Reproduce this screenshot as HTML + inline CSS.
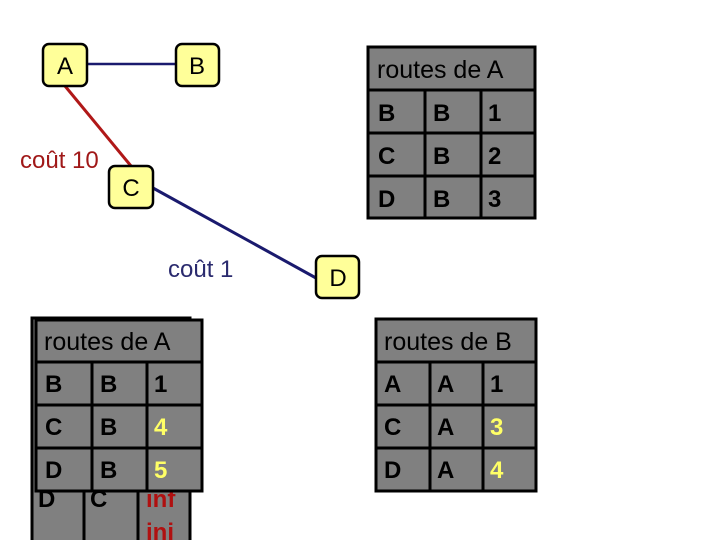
<!DOCTYPE html>
<html><head><meta charset="utf-8"><style>
html,body{margin:0;padding:0;background:#fff;width:720px;height:540px;overflow:hidden}
svg{display:block}
text{font-family:"Liberation Sans",sans-serif}
</style></head><body>
<svg width="720" height="540" viewBox="0 0 720 540" xmlns="http://www.w3.org/2000/svg">
<!-- edges -->
<line x1="87" y1="64" x2="176" y2="64" stroke="#1a1a6e" stroke-width="2.5"/>
<line x1="65" y1="86" x2="131" y2="166" stroke="#b01818" stroke-width="3"/>
<line x1="153" y1="188" x2="316" y2="278" stroke="#1a1a6e" stroke-width="3"/>
<text x="20" y="168" font-size="24" fill="#a01818">coût 10</text>
<text x="168" y="277" font-size="24" fill="#2a2a6e">coût 1</text>
<!-- nodes -->
<g stroke="#000" stroke-width="2.5" fill="#ffff99">
<rect x="43" y="44" width="44" height="42" rx="6"/>
<rect x="176" y="44" width="43" height="42" rx="6"/>
<rect x="109" y="166" width="44" height="42" rx="6"/>
<rect x="316" y="256" width="43" height="42" rx="6"/>
</g>
<g font-size="24" fill="#000" text-anchor="middle">
<text x="65" y="74">A</text><text x="197" y="74">B</text>
<text x="131" y="196">C</text><text x="338" y="286">D</text>
</g>
<!-- top-right table -->
<g stroke="#000" stroke-width="3" fill="#808080">
<rect x="368" y="47" width="167" height="171"/>
<line x1="368" y1="90" x2="535" y2="90"/><line x1="368" y1="133" x2="535" y2="133"/><line x1="368" y1="176" x2="535" y2="176"/>
<line x1="425" y1="90" x2="425" y2="218"/><line x1="481" y1="90" x2="481" y2="218"/>
</g>
<text x="377" y="78" font-size="25">routes de A</text>
<g font-size="24" font-weight="bold">
<text x="378" y="121">B</text><text x="433" y="121">B</text><text x="488" y="121">1</text>
<text x="378" y="164">C</text><text x="433" y="164">B</text><text x="488" y="164">2</text>
<text x="378" y="207">D</text><text x="433" y="207">B</text><text x="488" y="207">3</text>
</g>
<!-- behind table bottom-left -->
<g stroke="#000" stroke-width="3" fill="#808080">
<rect x="32" y="318" width="158" height="230"/>
<line x1="84" y1="318" x2="84" y2="540"/><line x1="138" y1="318" x2="138" y2="540"/>
</g>
<g font-size="24" font-weight="bold">
<text x="38" y="507">D</text><text x="90" y="507">C</text>
<text x="146" y="507" fill="#b01010">inf</text><text x="146" y="540" fill="#b01010">ini</text>
</g>
<!-- front table bottom-left -->
<g stroke="#000" stroke-width="3" fill="#808080">
<rect x="36" y="320" width="166" height="171"/>
<line x1="36" y1="362" x2="202" y2="362"/><line x1="36" y1="405" x2="202" y2="405"/><line x1="36" y1="448" x2="202" y2="448"/>
<line x1="92" y1="362" x2="92" y2="491"/><line x1="147" y1="362" x2="147" y2="491"/>
</g>
<text x="44" y="350" font-size="25">routes de A</text>
<g font-size="24" font-weight="bold">
<text x="45" y="392">B</text><text x="100" y="392">B</text><text x="154" y="392">1</text>
<text x="45" y="435">C</text><text x="100" y="435">B</text><text x="154" y="435" fill="#ffff66">4</text>
<text x="45" y="478">D</text><text x="100" y="478">B</text><text x="154" y="478" fill="#ffff66">5</text>
</g>
<!-- bottom-right table -->
<g stroke="#000" stroke-width="3" fill="#808080">
<rect x="376" y="319" width="160" height="172"/>
<line x1="376" y1="362" x2="536" y2="362"/><line x1="376" y1="405" x2="536" y2="405"/><line x1="376" y1="448" x2="536" y2="448"/>
<line x1="430" y1="362" x2="430" y2="491"/><line x1="483" y1="362" x2="483" y2="491"/>
</g>
<text x="384" y="350" font-size="25">routes de B</text>
<g font-size="24" font-weight="bold">
<text x="384" y="392">A</text><text x="437" y="392">A</text><text x="490" y="392">1</text>
<text x="384" y="435">C</text><text x="437" y="435">A</text><text x="490" y="435" fill="#ffff66">3</text>
<text x="384" y="478">D</text><text x="437" y="478">A</text><text x="490" y="478" fill="#ffff66">4</text>
</g>
</svg>
</body></html>
